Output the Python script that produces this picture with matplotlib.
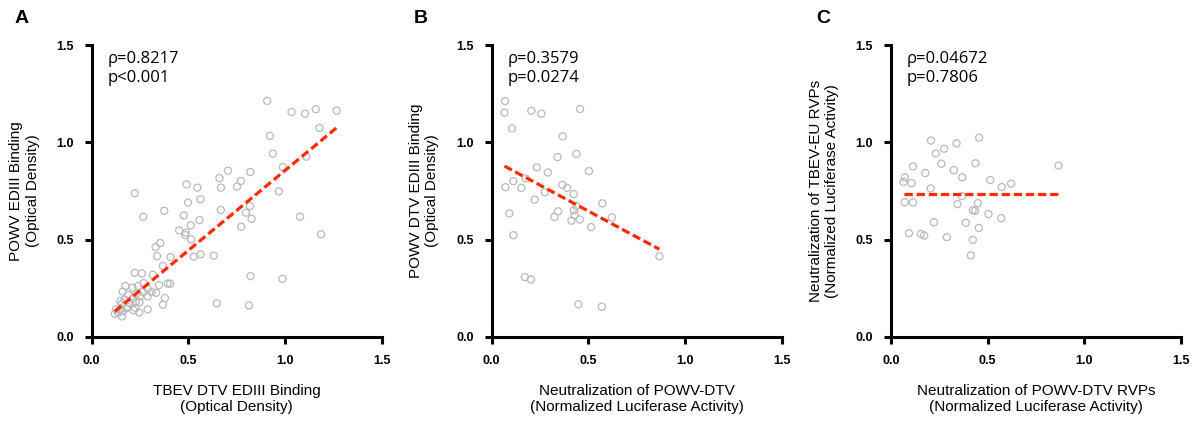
import numpy as np
import matplotlib
matplotlib.use("Agg")
from matplotlib import pyplot as plt

# Panel A data: TBEV DTV EDIII vs POWV EDIII binding (OD)
a_x = [0.907, 1.033, 1.103, 1.158, 1.266, 1.177, 0.921, 0.936, 1.110, 0.988,
       0.820, 0.704, 0.660, 0.668, 0.771, 0.751, 0.967, 0.818, 0.797, 0.826,
       0.773, 0.667, 1.077, 1.186, 0.490, 0.546, 0.562, 0.498, 0.222, 0.266,
       0.375, 0.476, 0.557, 0.512, 0.452, 0.486, 0.483, 0.514, 0.354, 0.330,
       0.338, 0.407, 0.527, 0.562, 0.631, 0.368, 0.821, 0.986, 0.646, 0.813,
       0.368, 0.378, 0.222, 0.259, 0.316, 0.392, 0.405, 0.347, 0.174, 0.211,
       0.239, 0.268, 0.289, 0.160, 0.187, 0.229, 0.266, 0.309, 0.333, 0.289,
       0.249, 0.148, 0.170, 0.211, 0.227, 0.247, 0.196, 0.156, 0.225, 0.179,
       0.187, 0.125, 0.149, 0.119, 0.156, 0.246, 0.289, 0.137, 0.216, 0.158]
a_y = [1.213, 1.156, 1.147, 1.170, 1.163, 1.074, 1.033, 0.942, 0.926, 0.873,
       0.847, 0.854, 0.816, 0.767, 0.801, 0.772, 0.748, 0.672, 0.638, 0.607,
       0.566, 0.652, 0.617, 0.527, 0.784, 0.767, 0.707, 0.690, 0.738, 0.617,
       0.648, 0.624, 0.600, 0.573, 0.547, 0.535, 0.523, 0.501, 0.482, 0.461,
       0.415, 0.410, 0.412, 0.424, 0.417, 0.364, 0.312, 0.298, 0.172, 0.161,
       0.165, 0.199, 0.329, 0.326, 0.319, 0.274, 0.273, 0.266, 0.261, 0.252,
       0.261, 0.276, 0.247, 0.232, 0.216, 0.218, 0.230, 0.230, 0.226, 0.208,
       0.208, 0.184, 0.192, 0.196, 0.178, 0.178, 0.172, 0.170, 0.149, 0.146,
       0.154, 0.141, 0.144, 0.118, 0.105, 0.125, 0.141, 0.125, 0.137, 0.130]

# Panel B data: neutralization of POWV-DTV vs POWV DTV EDIII binding
b_x = [0.069, 0.066, 0.205, 0.257, 0.457, 0.105, 0.367, 0.340, 0.438, 0.233,
       0.290, 0.503, 0.112, 0.176, 0.071, 0.153, 0.274, 0.366, 0.390, 0.424,
       0.222, 0.438, 0.572, 0.091, 0.343, 0.424, 0.428, 0.324, 0.455, 0.412,
       0.621, 0.514, 0.112, 0.867, 0.171, 0.203, 0.448, 0.569]
b_y = [1.212, 1.153, 1.162, 1.147, 1.171, 1.072, 1.031, 0.924, 0.940, 0.871,
       0.845, 0.852, 0.800, 0.814, 0.769, 0.766, 0.743, 0.781, 0.766, 0.734,
       0.705, 0.672, 0.686, 0.634, 0.645, 0.650, 0.624, 0.616, 0.603, 0.597,
       0.614, 0.564, 0.522, 0.414, 0.307, 0.295, 0.167, 0.155]

# Panel C data: neutralization of POWV-DTV RVPs vs TBEV-EU RVPs
c_x = [0.207, 0.456, 0.339, 0.275, 0.232, 0.260, 0.437, 0.114, 0.866, 0.325,
       0.177, 0.072, 0.368, 0.065, 0.107, 0.513, 0.621, 0.573, 0.205, 0.367,
       0.071, 0.114, 0.344, 0.449, 0.423, 0.435, 0.504, 0.570, 0.222, 0.387,
       0.454, 0.093, 0.155, 0.172, 0.289, 0.423, 0.413]
c_y = [1.009, 1.024, 0.995, 0.967, 0.943, 0.890, 0.892, 0.876, 0.880, 0.857,
       0.842, 0.820, 0.820, 0.796, 0.790, 0.806, 0.787, 0.770, 0.763, 0.723,
       0.692, 0.691, 0.682, 0.687, 0.651, 0.648, 0.631, 0.610, 0.589, 0.586,
       0.560, 0.533, 0.529, 0.521, 0.512, 0.498, 0.418]

# fitted lines (slope, intercept)
fits = [(0.823, 0.033), (-0.534, 0.913), (0.0, 0.735)]
stats = ["ρ=0.8217\np<0.001", "ρ=0.3579\np=0.0274", "ρ=0.04672\np=0.7806"]
letters = ["A", "B", "C"]
xlabels = ["TBEV DTV EDIII Binding\n(Optical Density)",
           "Neutralization of POWV-DTV\n(Normalized Luciferase Activity)",
           "Neutralization of POWV-DTV RVPs\n(Normalized Luciferase Activity)"]
ylabels = ["POWV EDIII Binding\n(Optical Density)",
           "POWV DTV EDIII Binding\n(Optical Density)",
           "Neutralization of TBEV-EU RVPs\n(Normalized Luciferase Activity)"]
ticks = [0.0, 0.5, 1.0, 1.5]

plt.rcParams['font.family'] = ['Liberation Sans', 'DejaVu Sans']

fig = plt.figure(figsize=(12.04, 4.21), dpi=100)

lefts = [0.0762, 0.4084, 0.740]
letter_x = [0.0183, 0.3497, 0.6835]
data = [(a_x, a_y), (b_x, b_y), (c_x, c_y)]

for i in range(3):
    ax = fig.add_axes([lefts[i], 0.2, 0.241, 0.693])
    x, y = data[i]
    ax.scatter(x, y, s=26, facecolors='none', edgecolors='#b9b9b9',
               linewidths=0.9, clip_on=False, zorder=2)

    slope, icpt = fits[i]
    xs = np.array([min(x), max(x)])
    ax.plot(xs, slope * xs + icpt, color='#ff2a00', lw=2.3,
            dashes=(2.6, 1.2), zorder=3)

    ax.set_xlim(0, 1.5)
    ax.set_ylim(0, 1.5)
    ax.set_xticks(ticks)
    ax.set_yticks(ticks)
    ax.set_xticklabels([f"{t:.1f}" for t in ticks], fontweight='bold', fontsize=9)
    ax.set_yticklabels([f"{t:.1f}" for t in ticks], fontweight='bold', fontsize=9)
    for s in ['top', 'right']:
        ax.spines[s].set_visible(False)
    for s in ['left', 'bottom']:
        ax.spines[s].set_linewidth(2.2)
    ax.tick_params(width=2.2, length=5, direction='out', pad=8)

    ax.set_xlabel(xlabels[i], fontsize=11, labelpad=12)
    ax.set_ylabel(ylabels[i], fontsize=11, labelpad=12)

    ax.text(0.08, 1.47, stats[i], fontsize=12, family=['Open Sans', 'DejaVu Sans'],
            va='top', ha='left', linespacing=1.3)

    fig.text(letter_x[i], 0.955, letters[i], fontsize=14, fontweight='bold',
             ha='center', va='center')

plt.savefig("out.png", dpi=100)
